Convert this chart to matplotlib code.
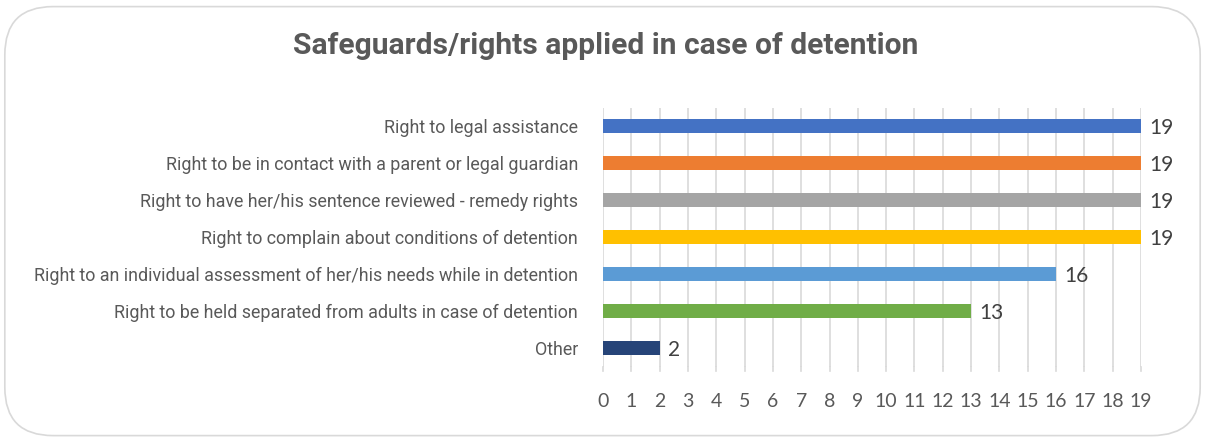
import matplotlib
matplotlib.use("Agg")
import matplotlib.pyplot as plt
from matplotlib.patches import FancyBboxPatch

categories = [
    "Right to legal assistance",
    "Right to be in contact with a parent or legal guardian",
    "Right to have her/his sentence reviewed - remedy rights",
    "Right to complain about conditions of detention",
    "Right to an individual assessment of her/his needs while in detention",
    "Right to be held separated from adults in case of detention",
    "Other",
]
values = [19, 19, 19, 19, 16, 13, 2]
colors = ["#4472C4", "#ED7D31", "#A5A5A5", "#FFC000", "#5B9BD5", "#70AD47", "#264478"]
xticks = list(range(0, 20))
title = "Safeguards/rights applied in case of detention"

LABEL_FONT = "Roboto"
NUM_FONT = "Lato"

fig = plt.figure(figsize=(12.05, 4.4), dpi=100)
fig.patch.set_facecolor("white")
border = FancyBboxPatch((0.004, 0.01), 0.992, 0.975, boxstyle="round,pad=0,rounding_size=0.04",
                        transform=fig.transFigure, facecolor="none", edgecolor="#D9D9D9",
                        linewidth=1.2, mutation_aspect=1205/440, zorder=-10)
fig.patches.append(border)

ax = fig.add_axes([0.5004, 0.166, 0.4465, 0.589])
ax.set_facecolor("none")
y = list(range(len(categories)))
ax.barh(y, values, height=0.38, color=colors, zorder=3)
ax.set_ylim(len(categories) - 0.5, -0.5)
ax.set_xlim(0, 19)
ax.set_xticks(xticks)
ax.set_xticklabels([str(t) for t in xticks], fontsize=14, color="#595959", family=NUM_FONT)
ax.set_yticks(y)
ylabels = ax.set_yticklabels(categories, fontsize=13, color="#595959", family=LABEL_FONT)
ax.tick_params(axis="y", length=0, pad=18)
ax.tick_params(axis="x", length=0, pad=19)
ax.grid(axis="x", color="#D9D9D9", linewidth=1.2, zorder=0)
for s in ax.spines.values():
    s.set_visible(False)
for xi in xticks:
    ax.plot([xi, xi], [len(categories) - 0.5, len(categories) - 0.5 + 0.1], color="#D9D9D9",
            linewidth=1.2, clip_on=False, zorder=0)
for yi, v in zip(y, values):
    ax.annotate(str(v), (v, yi), xytext=(6, -1), textcoords="offset points",
                va="center", ha="left", fontsize=15, color="#404040", family=NUM_FONT)

ttl = fig.text(0.503, 0.895, title, ha="center", va="center", fontsize=22, fontweight="bold",
               color="#595959", family=LABEL_FONT)

# fit font sizes to the reference text widths
fig.canvas.draw()
r = fig.canvas.get_renderer()
longest = max(ylabels, key=lambda t: t.get_window_extent(r).width)
w = longest.get_window_extent(r).width
fs = 13 * 547.0 / w
for t in ylabels:
    t.set_fontsize(fs)
tw = ttl.get_window_extent(r).width
ttl.set_fontsize(22 * 625.0 / tw)

fig.savefig("out.png", dpi=100)
